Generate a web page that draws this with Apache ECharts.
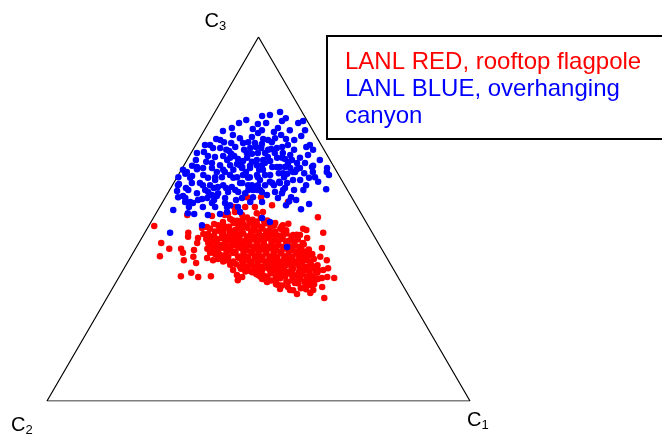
<!DOCTYPE html>
<html>
<head>
<meta charset="utf-8">
<script src="https://cdn.jsdelivr.net/npm/echarts@6/dist/echarts.min.js"></script>
<style>
  html, body { margin: 0; padding: 0; background: #ffffff; }
  #chart { width: 662px; height: 442px; }
</style>
</head>
<body>
<div id="chart"></div>
<script>
// Ternary compositions, stored as [C1 %, C3 %] (C2 = 100 - C1 - C3).
const seriesNames = ['LANL RED, rooftop flagpole', 'LANL BLUE, overhanging\ncanyon'];
const seriesColors = ['#ff0000', '#0000ff'];

// Corners of the diagram as [C1, C3] and their component labels.
const corners = [[100, 0], [0, 0], [0, 100]];
const cornerBase = ['C', 'C', 'C'];
const cornerSub = ['1', '2', '3'];

// LANL RED, rooftop flagpole
const redPoints = [
  [1.3,48.1],[5.3,43.4],[6.8,39.8],[8.0,41.8],[10.8,41.8],[11.8,40.7],[13.0,38.7],[10.8,45.1],[14.0,41.5],[13.8,43.4],
  [13.3,44.8],[14.8,39.6],[16.3,37.9],[14.5,34.3],[16.5,35.2],[18.7,34.1],[21.6,34.3],[14.0,45.9],[12.9,47.5],[13.9,47.8],
  [13.6,50.8],[16.4,43.4],[18.2,40.7],[18.2,39.3],[19.4,40.7],[19.9,38.7],[20.9,40.1],[22.7,38.7],[24.6,37.4],[26.0,36.0],
  [27.6,34.6],[28.5,33.2],[29.1,34.1],[21.8,42.0],[24.1,40.7],[25.9,39.6],[27.7,37.4],[20.0,42.9],[17.9,44.5],[18.4,45.9],
  [20.0,45.1],[21.9,43.7],[23.2,43.4],[22.8,45.6],[21.0,47.0],[18.9,47.8],[17.0,49.2],[16.3,48.3],[18.9,49.7],[20.7,48.9],
  [22.4,47.5],[17.1,51.4],[18.5,51.9],[20.6,51.1],
  [23.8,51.6],[25.1,51.9],[29.5,48.9],[31.6,48.3],[35.4,45.6],[37.8,47.0],[38.8,50.5],[42.2,46.2],[38.8,43.4],[41.1,40.7],
  [42.6,40.1],[44.8,39.6],[46.8,38.7],[47.3,36.0],[48.2,36.5],[51.0,33.8],[49.2,34.1],[48.1,33.8],[46.3,35.2],[43.7,36.0],
  [41.4,36.8],[39.3,37.4],[36.8,37.9],[35.3,38.2],[46.7,33.2],[46.3,31.9],[47.7,30.5],[44.7,32.7],[44.5,31.0],[42.4,32.4],
  [42.2,30.5],[40.6,32.7],[42.1,34.6],[40.4,35.2],[38.6,35.4],[37.0,35.2],[35.5,36.0],[34.0,36.5],[33.3,34.6],[35.2,33.2],
  [30.8,35.4],[29.3,36.0],[49.4,31.3],[51.4,28.3],[44.4,29.4],
  [36.9,47.3],[39.1,44.8],[47.4,29.7],[41.3,31.3],[38.7,31.9],[35.7,32.7],[32.6,34.6],[29.3,37.4],[45.9,34.1],[45.8,36.0],
  [44.0,42.0],[41.7,40.1],[39.1,41.5],[19.3,56.0],[22.6,56.0],[26.3,53.8],[22.5,53.3],[17.6,53.3],[29.6,54.7],[37.0,45.6],
  [7.6,51.1],[16.5,51.1],[21.3,49.7],[10.3,46.2],[20.2,53.3],
  [18.3,50.0],[20.2,49.5],[22.1,50.4],[23.7,49.8],[25.4,50.3],[27.3,49.6],
  [15.2,48.6],[17.8,48.1],[19.7,48.9],[22.3,48.4],[23.7,49.0],[25.6,48.3],[27.5,48.8],[29.6,48.2],[32.7,48.7],
  [14.9,47.3],[17.3,46.8],[18.9,47.6],[21.1,47.0],[23.7,47.5],[25.6,46.9],[27.2,47.4],[29.1,46.8],[31.5,47.3],[33.1,46.9],
  [15.1,45.9],[16.8,45.4],[20.1,46.2],[21.8,45.5],[23.4,46.0],[25.3,45.6],[27.0,46.1],[28.6,45.4],[30.3,45.9],[31.9,45.5],[33.6,46.0],[36.2,45.7],
  [15.4,44.5],[17.0,44.0],[18.9,44.8],[21.0,44.2],[22.9,44.7],[24.8,44.1],[26.5,44.6],[28.1,44.3],[30.0,44.8],[31.7,44.2],[33.3,44.6],[35.2,44.0],[37.1,44.4],
  [17.0,43.1],[18.6,42.6],[20.5,43.4],[22.7,42.8],[24.6,43.3],[26.4,42.7],[28.1,43.2],[29.8,42.9],[31.4,43.4],[33.3,42.8],[35.2,43.2],[37.3,42.7],[39.2,43.0],
  [17.0,41.8],[18.6,41.3],[20.5,42.1],[22.6,41.5],[24.8,42.0],[26.4,41.4],[28.3,41.9],[30.0,41.6],[31.9,42.0],[33.5,41.4],[35.4,41.9],[37.1,41.5],[39.0,42.0],[41.1,41.6],
  [19.5,40.4],[21.7,39.9],[23.6,40.7],[26.4,40.1],[28.3,40.6],[29.9,40.0],[31.6,40.5],[33.5,40.2],[35.1,40.6],[37.0,40.0],[38.7,40.5],[40.3,40.1],[42.5,40.4],
  [20.9,39.0],[23.5,38.6],[25.7,39.3],[27.6,38.7],[29.5,39.2],[31.1,38.6],[33.0,39.1],[34.6,38.8],[36.5,39.2],[38.2,38.6],[40.1,39.1],[41.7,38.7],[43.6,39.0],
  [25.9,37.6],[27.8,37.2],[29.4,37.9],[31.1,37.3],[33.0,37.8],[34.6,37.2],[36.3,37.7],[38.2,37.4],[40.1,37.8],[41.7,37.2],[43.6,37.6],[45.3,37.3],
  [27.7,36.3],[29.9,35.8],[31.3,36.5],[32.9,35.9],[36.5,36.4],[38.1,35.8],[40.0,36.3],[42.9,36.0],[44.8,36.4],[46.2,35.9],
  [32.0,34.9],[33.9,34.5],[35.5,35.1],[37.9,34.6],[39.8,35.0],[41.4,34.5],[42.9,34.9],[45.0,34.6],
  [34.1,33.5],[36.5,33.1],[38.3,33.7],[41.4,33.2],[43.1,33.6],[45.2,33.2],[47.3,33.5],
  [38.1,32.1],[39.7,31.7],[43.3,32.3],[45.2,31.8],[47.1,32.1],
  [39.7,30.8],[43.0,30.4],[45.9,30.7],
  [19.6,49.3],[21.5,49.3],[23.2,49.3],[24.9,49.3],[26.7,49.3],
  [16.8,47.9],[19.1,47.9],[21.3,47.9],[23.3,47.9],[25.0,47.9],[26.9,47.9],[28.9,47.9],[31.5,47.9],
  [16.4,46.6],[18.4,46.6],[20.3,46.6],[22.7,46.6],[25.0,46.6],[26.7,46.6],[28.5,46.6],[30.6,46.6],[32.6,46.6],
  [16.3,45.2],[18.8,45.2],[21.3,45.2],[22.9,45.2],[24.7,45.2],[26.5,45.2],[28.1,45.2],[29.8,45.2],[31.4,45.2],[33.1,45.2],[35.2,45.2],
  [16.5,43.8],[18.3,43.8],[20.3,43.8],[22.3,43.8],[24.2,43.8],[26.0,43.8],[27.6,43.8],[29.4,43.8],[31.2,43.8],[32.8,43.8],[34.6,43.8],[36.5,43.8],
  [18.1,42.4],[19.9,42.4],[21.9,42.4],[24.0,42.4],[25.8,42.4],[27.6,42.4],[29.3,42.4],[30.9,42.4],[32.7,42.4],[34.6,42.4],[36.6,42.4],[38.6,42.4],
  [18.1,41.1],[19.9,41.1],[21.9,41.1],[24.0,41.1],[25.9,41.1],[27.7,41.1],[29.5,41.1],[31.3,41.1],[33.0,41.1],[34.8,41.1],[36.6,41.1],[38.4,41.1],[40.4,41.1],
  [20.9,39.7],[23.0,39.7],[25.3,39.7],[27.7,39.7],[29.4,39.7],[31.1,39.7],[32.9,39.7],[34.6,39.7],[36.4,39.7],[38.2,39.7],[39.8,39.7],[41.7,39.7],
  [22.5,38.3],[24.9,38.3],[27.0,38.3],[28.9,38.3],[30.6,38.3],[32.4,38.3],[34.1,38.3],[35.9,38.3],[37.7,38.3],[39.5,38.3],[41.2,38.3],[43.0,38.3],
  [27.2,36.9],[28.9,36.9],[30.6,36.9],[32.4,36.9],[34.1,36.9],[35.8,36.9],[37.6,36.9],[39.5,36.9],[41.2,36.9],[43.0,36.9],[44.8,36.9],
  [29.1,35.6],[30.9,35.6],[32.4,35.6],[35.0,35.6],[37.6,35.6],[39.4,35.6],[41.8,35.6],[44.2,35.6],[45.8,35.6],
  [33.3,34.2],[35.0,34.2],[37.0,34.2],[39.2,34.2],[40.9,34.2],[42.5,34.2],[44.3,34.2],
  [35.6,32.8],[37.7,32.8],[40.2,32.8],[42.6,32.8],[44.5,32.8],[46.6,32.8]
];

// LANL BLUE, overhanging canyon
const bluePoints = [
  [7.2,76.4],[4.5,74.2],[11.3,74.7],[4.0,72.0],[6.3,71.1],[8.1,70.9],[10.9,70.9],[12.0,71.1],[4.5,69.5],[2.9,68.4],
  [1.4,68.1],[8.7,68.7],[9.6,67.9],[13.2,68.1],[13.3,69.5],[4.4,67.3],[6.2,67.0],[8.0,67.3],[9.5,66.2],[11.9,66.5],
  [13.9,66.8],[15.6,65.7],[4.8,65.7],[6.3,65.4],[8.5,64.8],[10.9,64.8],[12.4,65.1],[14.0,64.3],[15.7,64.6],[2.0,64.6],
  [3.3,64.3],[4.9,64.0],
  [15.4,79.4],[13.4,78.6],[11.7,78.3],[13.6,76.4],[17.1,76.9],[21.2,76.4],[22.1,76.9],[16.7,73.9],[18.8,73.1],[13.1,73.6],
  [23.7,72.8],[20.5,72.0],[15.1,72.0],[16.4,71.7],[17.6,71.1],[13.7,70.9],[27.0,70.3],[28.4,69.0],[15.9,69.5],[18.4,69.2],
  [19.6,69.5],[20.7,69.8],[15.8,68.1],[17.5,68.1],[19.8,68.1],[21.7,68.1],[27.9,67.6],[16.5,66.2],[18.0,66.2],[19.8,65.9],
  [21.0,66.8],[23.0,66.5],[24.8,66.2],[18.4,64.8],[21.1,64.3],[22.9,64.3],[24.4,65.1],[27.2,63.7],[30.6,64.6],[34.2,64.0],
  [35.6,62.1],[36.9,58.2],[30.5,64.3],[31.4,62.9],[31.3,61.3],[31.6,58.0],[34.9,54.1],[33.7,52.7],[29.8,54.9],[27.8,60.7],
  [27.0,58.5],[24.8,60.2],
  [0.3,61.5],[1.9,57.7],[4.8,55.8],[3.6,52.5],[7.5,51.6],[1.4,59.6],[1.6,62.9],[3.6,63.7],[4.3,59.9],[6.2,59.9],
  [6.9,57.1],[7.3,54.4],[8.9,55.5],[9.4,57.4],[10.2,53.3],[13.1,53.3],[12.0,56.3],[14.2,55.8],[15.9,53.3],[14.3,58.8],
  [16.5,57.4],[15.7,59.9],[18.3,57.1],[17.9,59.3],[20.7,56.0],[20.7,58.0],[20.0,60.7],[21.9,59.3],[22.6,60.2],[23.7,56.6],
  [25.2,57.4],[27.0,57.1],[26.8,59.9],[24.5,62.6],[22.2,64.3],[21.7,62.1],[19.3,63.5],[18.6,62.1],[17.2,61.5],[15.3,62.1],
  [14.2,61.5],[12.2,62.1],[10.6,61.5],[9.4,60.7],[7.4,61.3],[5.9,62.1],[8.7,62.9],[9.9,63.5],[12.3,63.5],[14.1,64.0],
  [16.0,64.0],[17.2,64.8],[18.8,65.4],[24.1,64.3],[26.7,62.9],[26.4,65.4],[24.2,65.7],[22.2,66.8],
  [1.5,62.4],[1.3,59.3],[3.0,56.0],[4.4,58.0],[7.2,59.3],[6.5,54.7],[8.1,55.2],[10.0,55.8],[10.7,56.6],[11.9,57.1],
  [12.0,59.3],[14.1,57.4],[15.5,58.0],[16.2,59.9],[16.9,61.3],[18.8,59.3],[19.7,58.0],[14.9,54.4],[12.5,51.1],[12.5,48.3],
  [6.0,46.2],[9.0,61.5],[8.9,59.3],[5.3,54.7],[8.4,58.0],[11.0,58.8],[16.4,53.8],[18.5,53.3],[13.4,61.3],
  [19.1,61.5],[20.5,62.1],[23.5,62.6],[25.6,62.4],[27.2,62.9],[32.6,61.5],[34.7,62.9],[20.2,59.3],[23.3,59.9],[25.1,59.9],
  [22.1,57.4],[26.8,58.0],[29.7,56.0],[28.1,49.2],
  [15.2,51.4],[16.6,51.9],[19.7,51.9],[35.6,42.3],[6.9,53.3],[25.7,50.3],
  [3.4,70.3],[6.2,69.5],[9.6,69.8],[12.1,69.0],[14.5,69.8],[15.5,70.6],[21.8,70.3],[23.9,69.0],[23.7,67.6],[26.4,66.8],
  [10.6,67.3],[18.7,67.0],[15.6,62.9],[7.0,64.0],[3.2,61.3],[3.6,58.5],[10.2,58.5],[18.2,55.8],[20.7,54.7],[23.5,54.7],
  [26.7,55.8],[29.6,53.8],[29.4,58.0],[29.5,60.7],[29.5,62.6],[34.0,60.2],[31.4,66.2],
  [7.9,69.0],[9.5,72.2],[12.2,72.5],[17.1,75.0],[20.2,74.4],[9.9,66.8],[13.4,65.9],[18.4,63.5],[25.5,64.0],[28.3,65.4],
  [31.6,59.3],[31.3,55.2],[13.1,58.5],[11.8,54.4],[0.4,63.5],[2.1,66.2],[13.6,74.4],[7.4,73.1],[17.8,72.2],
  [5.1,71.7],[6.2,75.0],[8.5,77.2],[11.8,76.1],[22.6,71.7],[23.8,74.4],[4.0,56.3],[9.1,51.4],[11.9,55.2],[17.1,55.2],
  [21.4,58.0],[24.0,59.3],[25.3,61.5],[27.8,64.0],[26.4,69.8],[17.6,77.7],[3.4,61.8],[2.2,70.3],[14.5,67.9],[17.8,69.0],
  [13.2,64.8],[10.6,62.9],[18.6,58.0]
];

// Ternary [C1, C3] -> plane: x runs along the C2-C1 base, y is the C3 height.
function toPlane(p) {
  return [p[0] + p[1] / 2, p[1]];
}

const FONT = '"Liberation Sans", Arial, Helvetica, sans-serif';
const chart = echarts.init(document.getElementById('chart'), null, { renderer: 'canvas' });

const outline = corners.concat([corners[0]]).map(toPlane);

chart.setOption({
  animation: false,
  backgroundColor: '#ffffff',
  grid: { left: 47, top: 37, width: 423, height: 364, containLabel: false },
  xAxis: { type: 'value', min: 0, max: 100, show: false },
  yAxis: { type: 'value', min: 0, max: 100, show: false },
  legend: {
    orient: 'vertical',
    left: 327,
    top: 36,
    padding: [13, 80, 9, 13],
    itemGap: 0,
    itemWidth: 0,
    itemHeight: 0,
    icon: 'circle',
    itemStyle: { opacity: 0 },
    selectedMode: false,
    borderColor: '#000000',
    borderWidth: 2,
    backgroundColor: '#ffffff',
    textStyle: { fontFamily: FONT, fontSize: 24, lineHeight: 27 },
    data: [
      { name: seriesNames[0], textStyle: { color: seriesColors[0] } },
      { name: seriesNames[1], textStyle: { color: seriesColors[1] } }
    ]
  },
  series: [
    {
      name: 'outline',
      type: 'line',
      data: outline,
      symbol: 'none',
      silent: true,
      lineStyle: { color: '#000000', width: 1.2 },
      z: 1
    },
    {
      name: seriesNames[0],
      type: 'scatter',
      data: redPoints.map(toPlane),
      symbol: 'circle',
      symbolSize: 6.5,
      itemStyle: { color: seriesColors[0], opacity: 1 },
      z: 2
    },
    {
      name: seriesNames[1],
      type: 'scatter',
      data: bluePoints.map(toPlane),
      symbol: 'circle',
      symbolSize: 6.5,
      itemStyle: { color: seriesColors[1], opacity: 1 },
      z: 3
    }
  ]
});

// Corner labels C1, C2, C3 placed next to their corners.
const labelShift = [[-3, 7], [-36, 12], [-54, -28]];
const cornerLabels = corners.map(function (c, i) {
  const px = chart.convertToPixel({ gridIndex: 0 }, toPlane(c));
  return {
    type: 'text',
    x: px[0] + labelShift[i][0],
    y: px[1] + labelShift[i][1],
    silent: true,
    style: {
      text: '{c|' + cornerBase[i] + '}{s|' + cornerSub[i] + '}',
      align: 'left',
      verticalAlign: 'top',
      fill: '#000000',
      rich: {
        c: { fontFamily: FONT, fontSize: 20, lineHeight: 24, fill: '#000000' },
        s: { fontFamily: FONT, fontSize: 13, lineHeight: 13, verticalAlign: 'bottom', fill: '#000000' }
      }
    }
  };
});
chart.setOption({ graphic: cornerLabels });
</script>
</body>
</html>
